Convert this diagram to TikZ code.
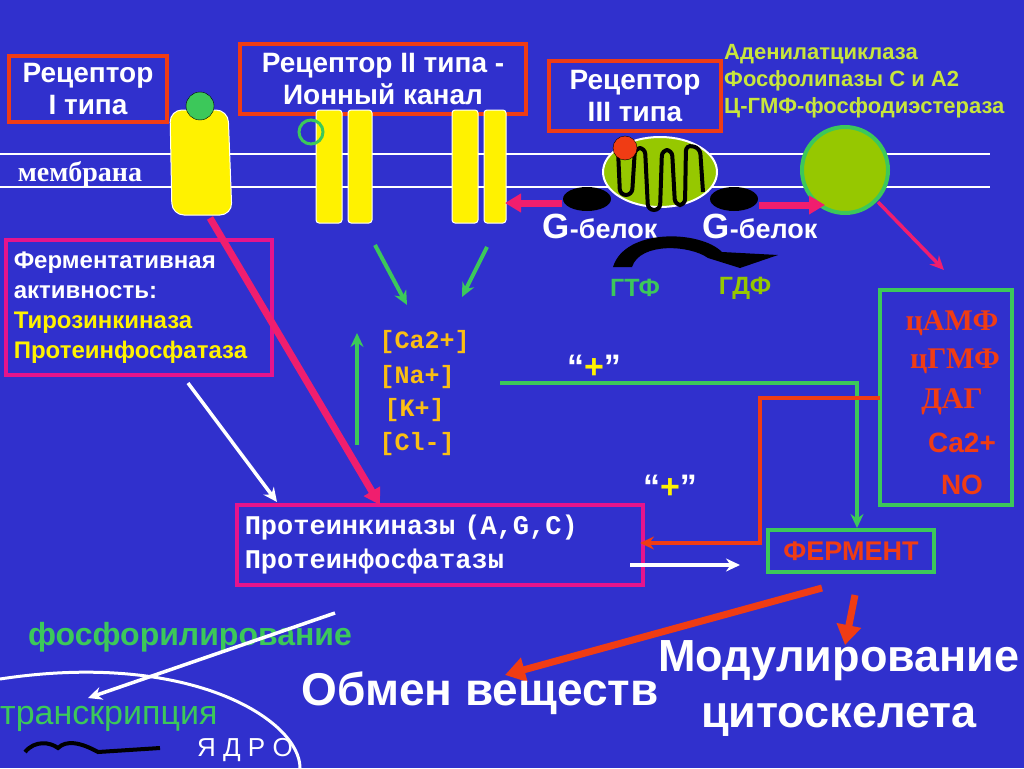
\documentclass[tikz,border=0pt]{standalone}
\usepackage{fontspec}
\setmainfont{Liberation Sans}
\setmonofont{Liberation Mono}
\newfontfamily\serifbold{Liberation Serif}
\usetikzlibrary{arrows.meta,positioning,calc}
\definecolor{bg}{RGB}{48,48,205}
\definecolor{lime}{RGB}{150,200,0}
\definecolor{ygreen}{RGB}{200,230,60}
\definecolor{dgreen}{RGB}{60,200,90}
\definecolor{pink}{RGB}{240,30,110}
\definecolor{mag}{RGB}{230,20,140}
\definecolor{rred}{RGB}{240,60,20}
\definecolor{ora}{RGB}{250,190,20}
\begin{document}
\begin{tikzpicture}[x=1pt,y=-1pt,
  title/.style={draw=rred, line width=3.5pt, align=center, text=white,
    font=\fontsize{28}{32}\selectfont\bfseries, inner sep=4pt},
  mbox/.style={draw=mag, line width=3.5pt, align=left, inner sep=8pt},
  gbox/.style={draw=dgreen, line width=3.5pt},
  rod/.style={fill=yellow, draw=white, line width=1pt, rounded corners=3pt},
  ion/.style={text=ora, font=\ttfamily\bfseries\fontsize{25}{30}\selectfont, anchor=west},
  med/.style={text=rred, font=\fontsize{28}{30}\selectfont\bfseries},
  big/.style={text=white, font=\fontsize{46}{50}\selectfont\bfseries},
  garrow/.style={-{Stealth[length=14pt,width=13pt]}, dgreen, line width=4pt},
  parrow/.style={-{Triangle[length=16pt,width=18pt]}, pink, line width=7pt},
  warrow/.style={-{Stealth[length=14pt,width=13pt]}, white, line width=3.5pt},
  rarrow/.style={-{Triangle[length=20pt,width=24pt]}, rred, line width=7pt}
]
\useasboundingbox (0,0) rectangle (1024,768);
\fill[bg] (0,0) rectangle (1024,768);

% membrane
\draw[white, line width=2.5pt] (0,154) -- (990,154);
\draw[white, line width=2.5pt] (0,187) -- (990,187);
\node[text=white, font=\serifbold\bfseries\fontsize{28}{30}\selectfont] (mem) at (80,174) {мембрана};

% receptor I
\node[title, minimum width=158pt, minimum height=66pt] (r1) at (88,89) {Рецептор\\I типа};
\filldraw[rod, rounded corners=12pt] (170,110) -- (228,110) -- (232,215) -- (172,215) -- cycle;
\filldraw[fill=dgreen] (200,106) circle (14);

% receptor II
\node[title, minimum width=286pt, minimum height=70pt] (r2) at (383,79) {Рецептор II типа -\\Ионный канал};
\foreach \x/\w in {316/26,348/24,452/26,484/22}
  \filldraw[rod] (\x,110) rectangle ++(\w,113);
\draw[dgreen, line width=3pt] (311,132) circle (12);

% receptor III
\node[title, minimum width=172pt, minimum height=70pt] (r3) at (635,96) {Рецептор\\III типа};
\node[text=ygreen, anchor=north west, align=left, inner sep=0pt, font=\fontsize{22}{27}\selectfont\bfseries] (eff) at (724,44)
  {Аденилатциклаза\\Фосфолипазы С и А2\\Ц-ГМФ-фосфодиэстераза};
\filldraw[fill=lime, draw=white, line width=2pt] (660,172) ellipse (57 and 35);
\draw[black, line width=4pt, rounded corners=6pt] (618,150) -- (620,195) -- (632,195) -- (635,148) -- (645,148) -- (648,210)
  -- (660,210) -- (662,150) -- (672,150) -- (675,205) -- (685,205) -- (686,145) -- (700,148) -- (703,192);
\filldraw[fill=rred] (625,148) circle (12);
\fill[black] (587,199) ellipse (24 and 12);
\fill[black] (734,199) ellipse (24 and 12);
\coordinate (gl) at (562,203);
\coordinate (gr) at (759,205);
\draw[parrow] (gl) -- (505,203);
\filldraw[fill=lime, draw=dgreen, line width=4pt] (845,170) circle (43);
\draw[parrow] (gr) -- (825,205);
\node[text=white, font=\fontsize{27}{30}\selectfont\bfseries] (gb1) at (600,226) {{\fontsize{35}{38}\selectfont G}-белок};
\node[text=white, font=\fontsize{27}{30}\selectfont\bfseries] (gb2) at (760,226) {{\fontsize{35}{38}\selectfont G}-белок};
\fill[black] (613,267) .. controls (625,228) and (700,230) .. (722,252) -- (778,255) -- (740,268) -- (708,258) .. controls (690,245) and (640,242) .. (632,267) -- cycle;
\node[text=dgreen, font=\fontsize{25}{28}\selectfont\bfseries] (gtp) at (635,288) {ГТФ};
\node[text=lime, font=\fontsize{25}{28}\selectfont\bfseries] (gdp) at (745,288) {ГДФ};
\draw[-{Stealth[length=14pt,width=13pt]}, pink, line width=3.5pt] (878,202) -- (944,270);

% second messengers
\draw[gbox] (880,290) rectangle (1012,505);
\node[med, font=\serifbold\bfseries\fontsize{30}{32}\selectfont] (camp) at (952,323) {цАМФ};
\node[med, font=\serifbold\bfseries\fontsize{30}{32}\selectfont] (cgmp) at (955,361) {цГМФ};
\node[med, font=\serifbold\bfseries\fontsize{30}{32}\selectfont] (dag) at (952,402) {ДАГ};
\node[med] (ca) at (962,443) {Ca2+};
\node[med] (no) at (962,485) {NO};

% enzymatic activity
\node[mbox, anchor=north west, text width=250pt, minimum height=135pt, font=\fontsize{24}{30}\selectfont\bfseries] (fa) at (4,238)
  {\textcolor{white}{Ферментативная}\\\textcolor{white}{активность:}\\\textcolor{yellow}{Тирозинкиназа}\\\textcolor{yellow}{Протеинфосфатаза}};

% ions
\draw[garrow] (375,245) -- (407,305);
\draw[garrow] (487,247) -- (462,297);
\draw[garrow] (357,445) -- (357,333);
\node[ion] (ca2) at (376,342) {[Ca2+]};
\node[ion] (na) at (376,377) {[Na+]};
\node[ion] (kk) at (381,410) {[K+]};
\node[ion] (cl) at (376,444) {[Cl-]};

% kinases
\node[mbox, anchor=north west, text width=390pt, minimum height=80pt, text=white, font=\ttfamily\bfseries\fontsize{27}{34}\selectfont] (pk) at (235,503)
  {Протеинкиназы (A,G,C)\\Протеинфосфатазы};
\node[gbox, text=rred, font=\fontsize{27}{30}\selectfont\bfseries, minimum width=166pt, minimum height=42pt] (ferm) at (851,551) {ФЕРМЕНТ};
\node[text=white, font=\fontsize{34}{36}\selectfont\bfseries] (p1) at (594,367) {“\textcolor{yellow}{+}”};
\node[text=white, font=\fontsize{34}{36}\selectfont\bfseries] (p2) at (670,487) {“\textcolor{yellow}{+}”};
\draw[garrow] (500,383) -| (857,528);
\draw[-{Stealth[length=14pt,width=13pt]}, rred, line width=4pt] (880,398) -- (760,398) -- (760,543) -- (640,543);
\draw[parrow] (210,218) -- (380,505);
\draw[warrow] (188,383) -- (277,502);
\draw[warrow] (630,565) -- (740,565);
\draw[rarrow] (822,588) -- (505,675);
\draw[rarrow] (855,595) -- (845,645);

% nucleus
\node[text=dgreen, font=\fontsize{32}{34}\selectfont\bfseries] (phos) at (190,637) {фосфорилирование};
\draw[white, line width=3pt] (0,679) .. controls (190,650) and (300,720) .. (300,768);
\draw[warrow] (335,613) -- (88,698);
\node[text=dgreen, font=\fontsize{34}{36}\selectfont, anchor=west, inner sep=0pt] (trans) at (0,719) {транскрипция};
\draw[black, line width=4pt] (25,752) .. controls (35,740) and (50,742) .. (58,748) .. controls (66,740) and (80,742) .. (98,752) -- (160,748);
\node[text=white, font=\fontsize{26}{28}\selectfont] (nuc) at (245,750) {Я Д Р О};

% outcomes
\node[big] (obm) at (480,693) {Обмен веществ};
\node[big, align=center, font=\fontsize{45}{56}\selectfont\bfseries] (mod) at (839,688) {Модулирование\\цитоскелета};
\end{tikzpicture}
\end{document}
